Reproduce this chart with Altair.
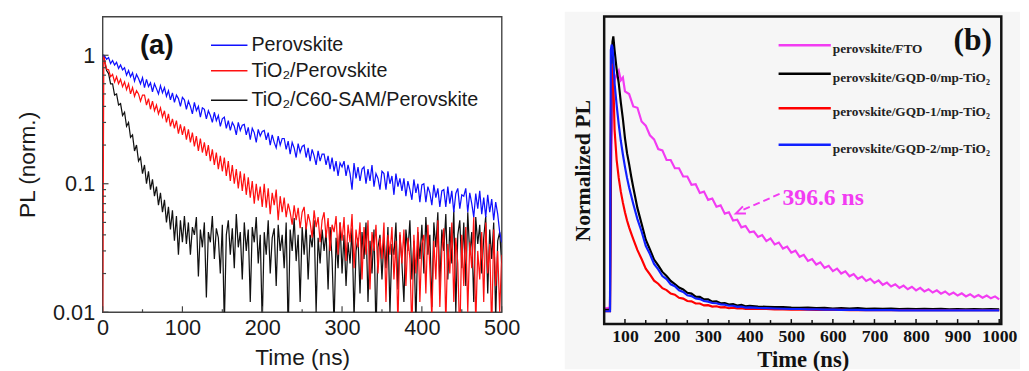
import altair as alt
import pandas as pd

# ---------------- Panel (a): log-scale PL decay ----------------
T_A = [0, 1.5] + [2.5 * i for i in range(1, 201)]

BLUE_A = [0.98, 1.0,
    0.99, 0.93, 0.96, 0.86, 0.91, 0.84, 0.88, 0.79, 0.84, 0.77,
    0.80, 0.70, 0.76, 0.68, 0.73, 0.63, 0.71, 0.66, 0.60, 0.67,
    0.56, 0.65, 0.57, 0.61, 0.52, 0.60, 0.55, 0.50, 0.58, 0.51,
    0.56, 0.48, 0.53, 0.45, 0.51, 0.43, 0.49, 0.46, 0.40, 0.47,
    0.45, 0.38, 0.44, 0.40, 0.35, 0.43, 0.37, 0.40, 0.33, 0.39,
    0.38, 0.32, 0.37, 0.34, 0.30, 0.36, 0.31, 0.34, 0.28, 0.32,
    0.33, 0.27, 0.31, 0.26, 0.30, 0.28, 0.24, 0.30, 0.26, 0.285,
    0.29, 0.24, 0.275, 0.22, 0.27, 0.25, 0.21, 0.265, 0.235, 0.255,
    0.26, 0.22, 0.25, 0.20, 0.24, 0.21, 0.19, 0.235, 0.20, 0.225,
    0.225, 0.185, 0.215, 0.17, 0.21, 0.19, 0.16, 0.205, 0.175, 0.195,
    0.20, 0.16, 0.19, 0.15, 0.185, 0.165, 0.14, 0.18, 0.15, 0.17,
    0.17, 0.14, 0.165, 0.13, 0.16, 0.125, 0.15, 0.115, 0.145, 0.135,
    0.15, 0.115, 0.14, 0.12, 0.09, 0.145, 0.11, 0.135, 0.105, 0.13,
    0.135, 0.10, 0.13, 0.105, 0.14, 0.095, 0.12, 0.11, 0.09, 0.125,
    0.12, 0.09, 0.125, 0.10, 0.115, 0.082, 0.12, 0.095, 0.11, 0.088,
    0.11, 0.08, 0.105, 0.09, 0.075, 0.108, 0.085, 0.10, 0.072, 0.098,
    0.10, 0.072, 0.095, 0.085, 0.068, 0.098, 0.078, 0.092, 0.066, 0.088,
    0.09, 0.066, 0.095, 0.07, 0.088, 0.06, 0.084, 0.092, 0.064, 0.082,
    0.08, 0.092, 0.06, 0.085, 0.07, 0.055, 0.084, 0.064, 0.088, 0.058,
    0.078, 0.055, 0.082, 0.06, 0.076, 0.052, 0.072, 0.058, 0.042, 0.035]

RED_A = [0.005, 1.0,
    0.92, 0.78, 0.77, 0.68, 0.71, 0.62, 0.68, 0.60, 0.65, 0.57,
    0.62, 0.54, 0.60, 0.50, 0.56, 0.48, 0.53, 0.50, 0.44, 0.49,
    0.49, 0.41, 0.46, 0.38, 0.44, 0.37, 0.41, 0.35, 0.39, 0.33,
    0.37, 0.30, 0.35, 0.28, 0.32, 0.27, 0.31, 0.245, 0.29, 0.24,
    0.28, 0.22, 0.265, 0.21, 0.25, 0.195, 0.235, 0.18, 0.225, 0.175,
    0.21, 0.165, 0.20, 0.15, 0.185, 0.14, 0.175, 0.13, 0.165, 0.125,
    0.16, 0.115, 0.15, 0.105, 0.14, 0.10, 0.13, 0.092, 0.125, 0.088,
    0.12, 0.082, 0.112, 0.078, 0.105, 0.07, 0.10, 0.074, 0.095, 0.066,
    0.10, 0.065, 0.092, 0.058, 0.085, 0.068, 0.09, 0.052, 0.08, 0.06,
    0.078, 0.055, 0.07, 0.06, 0.048, 0.068, 0.052, 0.065, 0.045, 0.06,
    0.066, 0.044, 0.058, 0.05, 0.038, 0.062, 0.046, 0.055, 0.035, 0.052,
    0.06, 0.038, 0.054, 0.03, 0.048, 0.042, 0.056, 0.028, 0.05, 0.036,
    0.055, 0.025, 0.048, 0.035, 0.058, 0.022, 0.044, 0.032, 0.05, 0.018,
    0.046, 0.028, 0.052, 0.015, 0.042, 0.03, 0.048, 0.02, 0.038, 0.026,
    0.05, 0.012, 0.04, 0.028, 0.046, 0.018, 0.036, 0.008, 0.042, 0.024,
    0.044, 0.016, 0.038, 0.026, 0.007, 0.04, 0.02, 0.046, 0.012, 0.034,
    0.04, 0.014, 0.048, 0.022, 0.009, 0.036, 0.018, 0.052, 0.011, 0.03,
    0.045, 0.008, 0.034, 0.02, 0.05, 0.012, 0.038, 0.024, 0.006, 0.04,
    0.016, 0.046, 0.01, 0.035, 0.022, 0.055, 0.008, 0.03, 0.018, 0.042,
    0.012, 0.05, 0.02, 0.034, 0.007, 0.044, 0.016, 0.03, 0.01, 0.028]

BLACK_A = [1.0, 1.0,
    0.90, 0.76, 0.72, 0.60, 0.60, 0.49, 0.50, 0.41, 0.42, 0.34,
    0.36, 0.28, 0.30, 0.23, 0.24, 0.18, 0.20, 0.15, 0.16, 0.12,
    0.14, 0.10, 0.125, 0.09, 0.108, 0.08, 0.095, 0.068, 0.085, 0.06,
    0.075, 0.05, 0.066, 0.044, 0.062, 0.036, 0.056, 0.028, 0.052, 0.035,
    0.056, 0.034, 0.05, 0.028, 0.046, 0.04, 0.055, 0.019, 0.044, 0.032,
    0.05, 0.013, 0.042, 0.035, 0.056, 0.026, 0.045, 0.038, 0.02, 0.048,
    0.008, 0.04, 0.052, 0.028, 0.045, 0.022, 0.058, 0.032, 0.042, 0.018,
    0.05, 0.03, 0.044, 0.012, 0.046, 0.035, 0.055, 0.024, 0.04, 0.008,
    0.042, 0.028, 0.052, 0.02, 0.038, 0.045, 0.016, 0.048, 0.03, 0.04,
    0.022, 0.05, 0.007, 0.044, 0.03, 0.054, 0.025, 0.04, 0.012, 0.046,
    0.028, 0.048, 0.018, 0.04, 0.032, 0.052, 0.01, 0.038, 0.024, 0.044,
    0.03, 0.042, 0.015, 0.046, 0.026, 0.008, 0.038, 0.022, 0.05, 0.02,
    0.04, 0.016, 0.035, 0.024, 0.045, 0.009, 0.03, 0.038, 0.014, 0.042,
    0.026, 0.05, 0.012, 0.036, 0.02, 0.044, 0.007, 0.032, 0.04, 0.018,
    0.038, 0.022, 0.046, 0.01, 0.034, 0.028, 0.05, 0.015, 0.04, 0.024,
    0.012, 0.044, 0.03, 0.052, 0.018, 0.036, 0.008, 0.042, 0.026, 0.048,
    0.02, 0.055, 0.028, 0.04, 0.011, 0.05, 0.032, 0.06, 0.016, 0.044,
    0.03, 0.058, 0.018, 0.046, 0.024, 0.062, 0.01, 0.04, 0.052, 0.022,
    0.05, 0.016, 0.06, 0.028, 0.042, 0.012, 0.055, 0.034, 0.048, 0.02,
    0.038, 0.056, 0.014, 0.044, 0.026, 0.05, 0.009, 0.036, 0.042, 0.024]

LABELS_A = ["Perovskite", "TiO\u2082/Perovskite", "TiO\u2082/C60-SAM/Perovskite"]
COLORS_A = ["#1010ff", "#ff1010", "#111111"]
XTICKS_A = [0, 100, 200, 300, 400, 500]
XMINOR_A = [50, 150, 250, 350, 450]
YTICKS_A = [0.01, 0.1, 1]
YMINOR_A = [0.02, 0.03, 0.04, 0.05, 0.06, 0.07, 0.08, 0.09,
            0.2, 0.3, 0.4, 0.5, 0.6, 0.7, 0.8, 0.9]

# ---------------- Panel (b): normalized PL, linear ----------------
T_BM = [50, 60, 64, 66, 70, 75, 80, 85, 90, 95, 100] + list(range(110, 1001, 10))
MAGENTA_B = [0.01, 0.012, 0.012, 0.45, 0.78, 0.84, 0.86, 0.875, 0.84, 0.85, 0.80,
    0.79, 0.745, 0.74, 0.69, 0.675, 0.64, 0.625, 0.59, 0.585, 0.55,
    0.55, 0.52, 0.52, 0.49, 0.49, 0.46, 0.462, 0.43, 0.435, 0.405,
    0.41, 0.38, 0.385, 0.355, 0.36, 0.33, 0.333, 0.305, 0.31, 0.287,
    0.29, 0.27, 0.277, 0.255, 0.265, 0.243, 0.25, 0.228, 0.235, 0.213,
    0.22, 0.198, 0.205, 0.183, 0.19, 0.17, 0.178, 0.158, 0.165, 0.146,
    0.155, 0.137, 0.145, 0.127, 0.135, 0.118, 0.126, 0.11, 0.118, 0.103,
    0.112, 0.096, 0.104, 0.09, 0.098, 0.085, 0.093, 0.08, 0.089, 0.076,
    0.085, 0.072, 0.08, 0.068, 0.076, 0.064, 0.072, 0.06, 0.068, 0.057,
    0.065, 0.054, 0.062, 0.051, 0.059, 0.049, 0.057, 0.047, 0.054, 0.043]

T_BF = ([50, 60, 64, 66, 68, 70, 72, 75, 80, 85, 90, 95, 100, 105, 110, 115, 120]
        + list(range(130, 401, 10)) + list(range(420, 1001, 20)))
BLACK_B = [0.005, 0.005, 0.006, 0.55, 0.9, 0.98, 1.0, 0.95, 0.88, 0.83, 0.76, 0.70, 0.63,
    0.575, 0.535, 0.49, 0.45,
    0.375, 0.318, 0.26, 0.225, 0.188, 0.167, 0.143, 0.128, 0.11, 0.099, 0.086, 0.079,
    0.067, 0.064, 0.053, 0.052, 0.043, 0.043, 0.035, 0.036, 0.029, 0.03, 0.024, 0.026,
    0.021, 0.023, 0.018, 0.02,
    0.017, 0.016, 0.015, 0.015, 0.013, 0.012, 0.013, 0.011, 0.012, 0.01,
    0.011, 0.01, 0.011, 0.009, 0.01, 0.009, 0.01, 0.008, 0.009, 0.008,
    0.009, 0.008, 0.009, 0.007, 0.008, 0.007, 0.008, 0.007, 0.008, 0.007]
RED_B = [0.0, 0.0, 0.0, 0.7, 0.88, 0.9, 0.84, 0.66, 0.55, 0.485, 0.435, 0.395, 0.36,
    0.33, 0.305, 0.283, 0.262,
    0.222, 0.19, 0.155, 0.134, 0.111, 0.1, 0.084, 0.077, 0.064, 0.06, 0.049, 0.046,
    0.037, 0.036, 0.028, 0.028, 0.021, 0.022, 0.017, 0.018, 0.014, 0.015, 0.011, 0.013,
    0.01, 0.011, 0.008, 0.009,
    0.008, 0.008, 0.007, 0.007, 0.006, 0.006, 0.006, 0.005, 0.005, 0.005,
    0.005, 0.004, 0.004, 0.004, 0.004, 0.004, 0.004, 0.004, 0.004, 0.004,
    0.004, 0.004, 0.004, 0.004, 0.004, 0.004, 0.004, 0.004, 0.004, 0.004]
BLUE_B = [0.0, 0.0, 0.0, 0.95, 0.97, 0.96, 0.92, 0.83, 0.75, 0.68, 0.62, 0.57, 0.525,
    0.485, 0.45, 0.42, 0.39,
    0.335, 0.29, 0.238, 0.208, 0.172, 0.152, 0.128, 0.117, 0.098, 0.091, 0.076, 0.07,
    0.058, 0.055, 0.046, 0.044, 0.037, 0.035, 0.03, 0.029, 0.025, 0.024, 0.02, 0.02,
    0.016, 0.017, 0.013, 0.014,
    0.012, 0.011, 0.01, 0.009, 0.008, 0.008, 0.007, 0.007, 0.006, 0.006,
    0.005, 0.005, 0.005, 0.004, 0.004, 0.004, 0.004, 0.003, 0.003, 0.003,
    0.003, 0.003, 0.003, 0.003, 0.003, 0.003, 0.003, 0.003, 0.003, 0.003]

LABELS_B = ["perovskite/FTO", "perovskite/GQD-0/mp-TiO\u2082",
            "perovskite/GQD-1/mp-TiO\u2082", "perovskite/GQD-2/mp-TiO\u2082"]
COLORS_B = ["#f23cf2", "#000000", "#ff0000", "#1020ff"]
XTICKS_B = [100, 200, 300, 400, 500, 600, 700, 800, 900, 1000]
XMINOR_B = [150, 250, 350, 450, 550, 650, 750, 850, 950]
ANNOT_B = "396.6 ns"

# ---------------- sizes ----------------
W_A, H_A = 405, 300
W_B, H_B = 403, 312
SANS = "Liberation Sans"
SERIF = "Liberation Serif"
ONE = pd.DataFrame({"k": [0]})

XA = alt.Scale(domain=[0, 500], nice=False, zero=False)
YA = alt.Scale(type="log", domain=[0.01, 2.0], nice=False)
AXA_X = alt.Axis(values=XTICKS_A, title="Time (ns)", ticks=False, tickSize=0, domain=False,
                 grid=False, labelFlush=False, labelFont=SANS, labelFontSize=22,
                 labelColor="#1a1a1a", labelPadding=6, titleFont=SANS, titleFontSize=23,
                 titleFontWeight="normal", titleColor="#1a1a1a", titlePadding=8)
AXA_Y = alt.Axis(values=YTICKS_A, format="~g", title="PL (norm.)", ticks=False, tickSize=0,
                 domain=False, grid=False, labelFlush=False, labelFont=SANS, labelFontSize=22,
                 labelColor="#1a1a1a", labelPadding=8, titleFont=SANS, titleFontSize=23,
                 titleFontWeight="normal", titleColor="#1a1a1a", titlePadding=13)


def line_a(vals, color):
    df = pd.DataFrame({"t": T_A, "v": vals})
    return alt.Chart(df).mark_line(color=color, strokeWidth=1.25, clip=True).encode(
        x=alt.X("t:Q", scale=XA, axis=AXA_X),
        y=alt.Y("v:Q", scale=YA, axis=AXA_Y))


layers_a = [line_a(BLACK_A, COLORS_A[2]), line_a(RED_A, COLORS_A[1]), line_a(BLUE_A, COLORS_A[0])]

# inward ticks
for vals, ln in ((XTICKS_A, 6), (XMINOR_A, 3)):
    layers_a.append(alt.Chart(pd.DataFrame({"t": vals})).mark_rule(color="#444", strokeWidth=1.2).encode(
        x=alt.X("t:Q", scale=XA, axis=AXA_X), y=alt.value(H_A), y2=alt.value(H_A - ln)))
for vals, ln in ((YTICKS_A, 6), (YMINOR_A, 3.5)):
    layers_a.append(alt.Chart(pd.DataFrame({"v": vals})).mark_rule(color="#444", strokeWidth=1.2).encode(
        y=alt.Y("v:Q", scale=YA, axis=AXA_Y), x=alt.value(0), x2=alt.value(ln)))

# panel label and legend
layers_a.append(alt.Chart(ONE).mark_text(text="(a)", font=SANS, fontSize=28, fontWeight="bold",
                                        color="#111", align="center", baseline="middle").encode(
    x=alt.value(55), y=alt.value(30)))
for i, (lab, col) in enumerate(zip(LABELS_A, COLORS_A)):
    yy = [29, 55, 85][i]
    layers_a.append(alt.Chart(ONE).mark_rule(color=col, strokeWidth=1.5).encode(
        x=alt.value(110), x2=alt.value(147), y=alt.value(yy)))
    layers_a.append(alt.Chart(ONE).mark_text(text=lab, font=SANS, fontSize=20, color="#1a1a1a",
                                            align="left", baseline="middle").encode(
        x=alt.value(151), y=alt.value(yy)))

panel_a = alt.layer(*layers_a).properties(
    width=W_A, height=H_A,
    view=alt.ViewBackground(stroke="#444", strokeWidth=1.4, fill="white"))

# ---------------- Panel (b) ----------------
XB = alt.Scale(domain=[50, 1005], nice=False, zero=False)
YB = alt.Scale(domain=[-0.0466, 1.0717], nice=False, zero=False)
AXB_X = alt.Axis(values=XTICKS_B, format="d", title="Time (ns)", ticks=False, tickSize=0,
                 domain=False, grid=False, labelFlush=False, labelFont=SERIF, labelFontSize=18,
                 labelFontWeight="bold", labelColor="#111", labelPadding=4, titleFont=SERIF,
                 titleFontSize=23, titleFontWeight="bold", titleColor="#111", titlePadding=3,
                 zindex=2)
AXB_Y = alt.Axis(title="Normalized PL", labels=False, ticks=False, tickSize=0, domain=False,
                 grid=False, titleFont=SERIF, titleFontSize=22, titleFontWeight="bold",
                 titleColor="#111", titlePadding=10, zindex=2)

layers_b = [alt.Chart(ONE).mark_rect(color="#f6f6f6").encode(
    x=alt.value(-40), x2=alt.value(W_B + 19), y=alt.value(-5), y2=alt.value(H_B + 46))]


def line_b(ts, vals, color):
    df = pd.DataFrame({"t": ts, "v": vals})
    return alt.Chart(df).mark_line(color=color, strokeWidth=2.2, clip=True).encode(
        x=alt.X("t:Q", scale=XB, axis=AXB_X),
        y=alt.Y("v:Q", scale=YB, axis=AXB_Y))


layers_b += [line_b(T_BM, MAGENTA_B, COLORS_B[0]), line_b(T_BF, BLACK_B, COLORS_B[1]),
             line_b(T_BF, RED_B, COLORS_B[2]), line_b(T_BF, BLUE_B, COLORS_B[3])]

for vals, ln in ((XTICKS_B, 5), (XMINOR_B, 4)):
    layers_b.append(alt.Chart(pd.DataFrame({"t": vals})).mark_rule(color="#111", strokeWidth=1.5).encode(
        x=alt.X("t:Q", scale=XB, axis=AXB_X), y=alt.value(H_B), y2=alt.value(H_B - ln)))

# legend
for i, (lab, col) in enumerate(zip(LABELS_B, COLORS_B)):
    yy = [29, 58, 93, 130][i]
    layers_b.append(alt.Chart(ONE).mark_rule(color=col, strokeWidth=2.5).encode(
        x=alt.value(177), x2=alt.value(230), y=alt.value(yy)))
    layers_b.append(alt.Chart(ONE).mark_text(text=lab, font=SERIF, fontSize=13.5, fontWeight="bold",
                                            color="#222", align="left", baseline="middle").encode(
        x=alt.value(232), y=alt.value(yy + 4)))

layers_b.append(alt.Chart(ONE).mark_text(text="(b)", font=SERIF, fontSize=32, fontWeight="bold",
                                        color="#111", align="center", baseline="middle").encode(
    x=alt.value(374), y=alt.value(24)))
# annotation
layers_b.append(alt.Chart(ONE).mark_text(text=ANNOT_B, font=SERIF, fontSize=24, fontWeight="bold",
                                        color=COLORS_B[0], align="left", baseline="middle").encode(
    x=alt.value(181), y=alt.value(184)))
layers_b.append(alt.Chart(ONE).mark_rule(color=COLORS_B[0], strokeWidth=2, strokeDash=[7, 4]).encode(
    x=alt.value(178), x2=alt.value(139), y=alt.value(180), y2=alt.value(197)))
layers_b.append(alt.Chart(ONE).mark_point(shape="M0.9,-0.75L-0.9,0L0.9,0.75", filled=False,
                                         color=COLORS_B[0], strokeWidth=2, size=110, angle=337,
                                         opacity=1).encode(
    x=alt.value(138), y=alt.value(198)))
# frame
layers_b.append(alt.Chart(ONE).mark_rect(filled=False, stroke="#111", strokeWidth=2.5).encode(
    x=alt.value(0), x2=alt.value(W_B), y=alt.value(0), y2=alt.value(H_B)))

panel_b = alt.layer(*layers_b).properties(
    width=W_B, height=H_B,
    view=alt.ViewBackground(stroke="transparent", fill="#f9f9f9"))

chart = alt.hconcat(panel_a, panel_b, spacing=104, bounds="flush").properties(
    padding={"left": 8, "top": 0, "right": 0, "bottom": 0}
).configure(background="white")

chart.save("out.html", embed_options={"renderer": "svg", "actions": False})
